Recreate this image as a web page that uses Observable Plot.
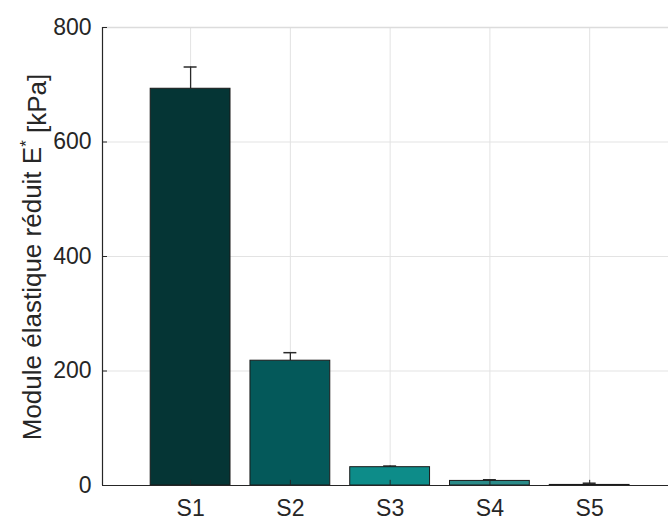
<!DOCTYPE html>
<html>
<head>
<meta charset="utf-8">
<script src="https://cdn.jsdelivr.net/npm/d3@7"></script>
<script src="https://cdn.jsdelivr.net/npm/@observablehq/plot@0.6"></script>
<style>
  html, body { margin: 0; padding: 0; background: #fff; overflow: hidden; }
  #chart svg { display: block; }
</style>
</head>
<body>
<div id="chart"></div>
<script>
const categories = ["S1", "S2", "S3", "S4", "S5"];
const positions = [1, 2, 3, 4, 5];
const values = [693, 218, 32, 8, 1];
const errors = [38, 14, 2, 2, 3];
const colors = ["#053535", "#04595a", "#0d8c89", "#2a8b89", "#4fa3a1"];
const yTicks = [0, 200, 400, 600, 800];
const yLabel = "Module élastique réduit E";

const data = categories.map((c, i) => ({
  cat: c, pos: positions[i], value: values[i], err: errors[i], color: colors[i]
}));

const xMin = 0.117, xMax = 5.79;
const halfBar = 0.4, halfCap = 0.065;
const textColor = "#262626";
const font = "'Liberation Sans', Arial, sans-serif";

const chart = Plot.plot({
  width: 668,
  height: 520,
  marginLeft: 102,
  marginRight: 0,
  marginTop: 27,
  marginBottom: 35,
  style: { fontFamily: font, fontSize: "23px", color: textColor, background: "#fff" },
  x: { type: "linear", domain: [xMin, xMax] },
  y: { domain: [0, 800] },
  marks: [
    // grid
    Plot.ruleY([200, 400, 600], { x1: xMin, x2: xMax, stroke: "#e3e3e3", strokeWidth: 1 }),
    Plot.ruleX(positions, { y1: 0, y2: 800, stroke: "#e3e3e3", strokeWidth: 1 }),
    Plot.ruleY([800], { x1: xMin, x2: xMax, stroke: "#dcdcdc", strokeWidth: 1.5 }),
    // error bars (upper)
    Plot.ruleX(data, { x: "pos", y1: "value", y2: d => d.value + d.err, stroke: "#2a2a2a", strokeWidth: 1.3 }),
    Plot.ruleY(data, { y: d => d.value + d.err, x1: d => d.pos - halfCap, x2: d => d.pos + halfCap, stroke: "#2a2a2a", strokeWidth: 1.5 }),
    // bars
    Plot.rectY(data, { x1: d => d.pos - halfBar, x2: d => d.pos + halfBar, y1: 0, y2: "value", fill: "color", stroke: "#1a1a1a", strokeWidth: 1 }),
    // axes lines
    Plot.ruleY([0], { x1: xMin, x2: xMax, stroke: "#262626", strokeWidth: 1.2 }),
    Plot.ruleX([xMin], { y1: 0, y2: 800, stroke: "#262626", strokeWidth: 1.2 }),
    // inward ticks
    Plot.ruleY(yTicks, { x1: xMin, x2: xMin + 0.05, stroke: "#262626", strokeWidth: 1 }),
    Plot.ruleX(positions, { y1: 0, y2: 9, stroke: "#262626", strokeWidth: 1 }),
    Plot.axisY(yTicks, { tickSize: 0, tickPadding: 11, fontSize: 23, fill: textColor, label: null }),
    Plot.axisX(positions, { tickSize: 0, tickPadding: 14, fontSize: 23, fill: textColor, label: null, tickFormat: d => categories[d - 1] })
  ]
});

document.getElementById("chart").appendChild(chart);

// y axis label with superscript
const svg = d3.select(chart);
const lbl = svg.append("text")
  .attr("transform", "translate(41,257) rotate(-90)")
  .attr("text-anchor", "middle")
  .attr("fill", textColor)
  .attr("font-size", 26)
  .attr("font-family", font);
lbl.append("tspan").text(yLabel);
lbl.append("tspan").attr("dy", "-0.55em").attr("font-size", 17).text("*");
lbl.append("tspan").attr("dy", "0.55em").text(" [kPa]");
</script>
</body>
</html>
